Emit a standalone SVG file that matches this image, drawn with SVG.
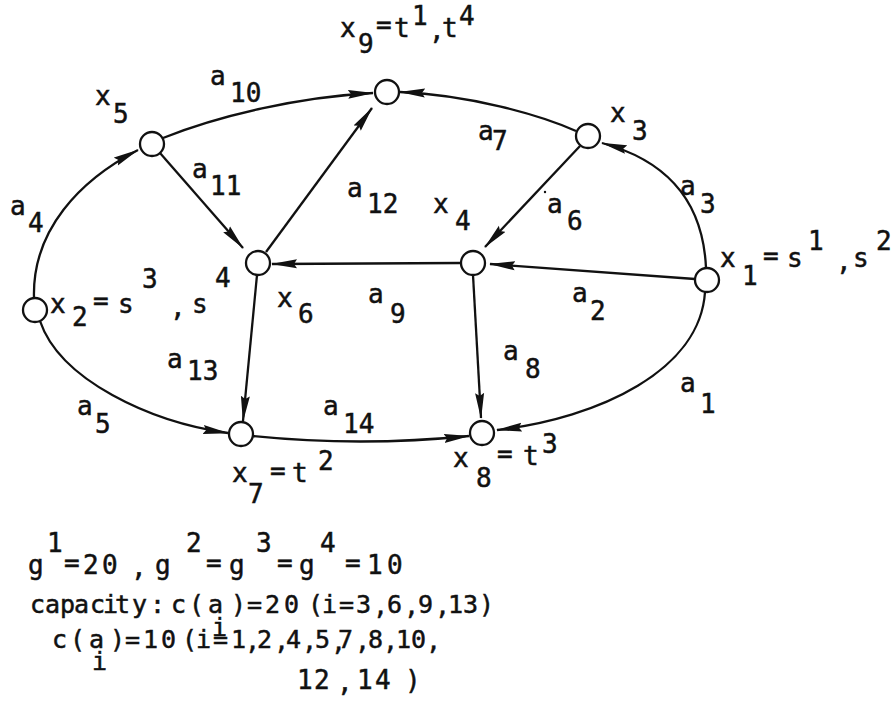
<svg xmlns="http://www.w3.org/2000/svg" width="894" height="712" viewBox="0 0 894 712">
<style>
.e{fill:none;stroke:#111;stroke-width:2.3;marker-end:url(#arr)}
.n{fill:#fff;stroke:#111;stroke-width:2.3}
text{font-family:"DejaVu Sans Mono","Liberation Mono",monospace;font-size:26px;fill:#111;stroke:#111;stroke-width:0.5}
.sm{font-size:25px}
</style>
<defs>
<marker id="arr" markerUnits="userSpaceOnUse" markerWidth="26" markerHeight="10" viewBox="0 0 26 10" refX="25" refY="5" orient="auto">
<path d="M0,0.5 L26,5 L0,9.5 L3,5 z" fill="#111"/>
</marker>
</defs>
<rect width="894" height="712" fill="#fff"/>
<g id="connectors">
<path id="a1" class="e" d="M705,292 C700,370 600,418 497,430"/>
<path id="a2" class="e" d="M695,279 L490,264"/>
<path id="a3" class="e" d="M706,268 C703,200 665,160 602,143"/>
<path id="a4" class="e" d="M34,298 C32,230 80,180 138,150"/>
<path id="a5" class="e" d="M40,321 C60,380 150,422 228,433"/>
<path id="a6" class="e" d="M580,146 L485,247"/>
<path id="a7" class="e" d="M576,131 C540,115 470,95 400,92"/>
<path id="a8" class="e" d="M473,275 L481,418"/>
<path id="a9" class="e" d="M461,263 L272,264"/>
<path id="a10" class="e" d="M163,138 C220,115 300,97 373,93"/>
<path id="a11" class="e" d="M160,153 L243,248"/>
<path id="a12" class="e" d="M266,252 L372,108"/>
<path id="a13" class="e" d="M257,275 L243,421"/>
<path id="a14" class="e" d="M253,436 Q360,447 469,436"/>
</g>
<g id="x1"><circle class="n" cx="707" cy="280" r="12"/></g>
<g id="x2"><circle class="n" cx="35" cy="310" r="12"/></g>
<g id="x3"><circle class="n" cx="588" cy="136" r="12"/></g>
<g id="x4"><circle class="n" cx="473" cy="263" r="12"/></g>
<g id="x5"><circle class="n" cx="152" cy="144" r="12"/></g>
<g id="x6"><circle class="n" cx="258" cy="263" r="12"/></g>
<g id="x7"><circle class="n" cx="241" cy="434" r="12"/></g>
<g id="x8"><circle class="n" cx="482" cy="433" r="12"/></g>
<g id="x9"><circle class="n" cx="387" cy="92" r="12"/></g>
<g id="labels">
<text><tspan x="340" y="37">x</tspan><tspan x="358" y="53">9</tspan><tspan x="376" y="34">=</tspan><tspan x="394" y="37">t</tspan><tspan x="412" y="25">1</tspan><tspan x="429" y="39">,</tspan><tspan x="442" y="37">t</tspan><tspan x="459" y="25">4</tspan></text>
<text><tspan x="95" y="105">x</tspan><tspan x="113" y="123">5</tspan></text>
<text><tspan x="210" y="85">a</tspan><tspan x="230" y="102">10</tspan></text>
<text><tspan x="192" y="178">a</tspan><tspan x="210" y="195">11</tspan></text>
<text><tspan x="347" y="197">a</tspan><tspan x="367" y="213">12</tspan></text>
<text><tspan x="433" y="213">x</tspan><tspan x="455" y="230">4</tspan></text>
<text><tspan x="10" y="215">a</tspan><tspan x="28" y="232">4</tspan></text>
<text><tspan x="610" y="122">x</tspan><tspan x="632" y="140">3</tspan></text>
<text><tspan x="478" y="140">a</tspan><tspan x="492" y="150">7</tspan></text>
<text><tspan x="680" y="195">a</tspan><tspan x="700" y="213">3</tspan></text>
<circle cx="545" cy="192" r="1.2" fill="#111"/>
<text><tspan x="547" y="213">a</tspan><tspan x="567" y="230">6</tspan></text>
<text><tspan x="720" y="267">x</tspan><tspan x="742" y="285">1</tspan><tspan x="763" y="265">=</tspan><tspan x="787" y="267">s</tspan><tspan x="808" y="250">1</tspan><tspan x="836" y="270">,</tspan><tspan x="853" y="267">s</tspan><tspan x="876" y="250">2</tspan></text>
<text><tspan x="50" y="313">x</tspan><tspan x="72" y="326">2</tspan><tspan x="93" y="310">=</tspan><tspan x="118" y="313">s</tspan><tspan x="142" y="288">3</tspan><tspan x="170" y="316">,</tspan><tspan x="192" y="313">s</tspan><tspan x="215" y="287">4</tspan></text>
<text><tspan x="277" y="307">x</tspan><tspan x="298" y="323">6</tspan></text>
<text><tspan x="368" y="303">a</tspan><tspan x="390" y="323">9</tspan></text>
<text><tspan x="572" y="302">a</tspan><tspan x="590" y="320">2</tspan></text>
<text><tspan x="167" y="368">a</tspan><tspan x="187" y="380">13</tspan></text>
<text><tspan x="503" y="360">a</tspan><tspan x="525" y="378">8</tspan></text>
<text><tspan x="680" y="392">a</tspan><tspan x="700" y="413">1</tspan></text>
<text><tspan x="77" y="415">a</tspan><tspan x="95" y="433">5</tspan></text>
<text><tspan x="323" y="415">a</tspan><tspan x="343" y="433">14</tspan></text>
<text><tspan x="232" y="482">x</tspan><tspan x="248" y="503">7</tspan><tspan x="270" y="480">=</tspan><tspan x="292" y="482">t</tspan><tspan x="318" y="470">2</tspan></text>
<text><tspan x="453" y="467">x</tspan><tspan x="476" y="487">8</tspan><tspan x="497" y="463">=</tspan><tspan x="523" y="465">t</tspan><tspan x="542" y="453">3</tspan></text>
</g>
<g id="notes">
<text><tspan x="28" y="574">g</tspan><tspan x="47" y="552">1</tspan><tspan x="64" y="572">=</tspan><tspan x="83" y="574">2</tspan><tspan x="102" y="574">0</tspan><tspan x="131" y="576">,</tspan><tspan x="155" y="574">g</tspan><tspan x="186" y="552">2</tspan><tspan x="206" y="572">=</tspan><tspan x="229" y="574">g</tspan><tspan x="256" y="552">3</tspan><tspan x="277" y="572">=</tspan><tspan x="299" y="574">g</tspan><tspan x="320" y="552">4</tspan><tspan x="345" y="572">=</tspan><tspan x="367" y="574">1</tspan><tspan x="387" y="574">0</tspan></text>
<text class="sm"><tspan x="30" y="613">c</tspan><tspan x="45" y="613">ap</tspan><tspan x="74" y="613">a</tspan><tspan x="90" y="613">c</tspan><tspan x="103" y="613">i</tspan><tspan x="115" y="613">t</tspan><tspan x="132" y="613">y</tspan><tspan x="150" y="613">:</tspan><tspan x="171" y="613">c</tspan><tspan x="189" y="613">(</tspan><tspan x="208" y="613">a</tspan><tspan x="212" y="636">i</tspan><tspan x="231" y="613">)</tspan><tspan x="247" y="613">=</tspan><tspan x="265" y="613">2</tspan><tspan x="284" y="613">0</tspan><tspan x="308" y="613">(</tspan><tspan x="322" y="613">i</tspan><tspan x="339" y="613">=</tspan><tspan x="356" y="613">3</tspan><tspan x="373" y="615">,</tspan><tspan x="387" y="613">6</tspan><tspan x="404" y="615">,</tspan><tspan x="418" y="613">9</tspan><tspan x="435" y="615">,</tspan><tspan x="448" y="613">13</tspan><tspan x="479" y="613">)</tspan></text>
<text class="sm"><tspan x="52" y="648">c</tspan><tspan x="70" y="648">(</tspan><tspan x="89" y="648">a</tspan><tspan x="92" y="670">i</tspan><tspan x="110" y="648">)</tspan><tspan x="125" y="648">=</tspan><tspan x="143" y="648">1</tspan><tspan x="161" y="648">0</tspan><tspan x="182" y="648">(</tspan><tspan x="196" y="648">i</tspan><tspan x="213" y="648">=</tspan><tspan x="231" y="648">1</tspan><tspan x="245" y="650">,</tspan><tspan x="257" y="648">2</tspan><tspan x="274" y="650">,</tspan><tspan x="286" y="648">4</tspan><tspan x="302" y="650">,</tspan><tspan x="315" y="648">5</tspan><tspan x="331" y="651">,</tspan><tspan x="338" y="648">7</tspan><tspan x="355" y="650">,</tspan><tspan x="368" y="648">8</tspan><tspan x="383" y="650">,</tspan><tspan x="396" y="648">10</tspan><tspan x="426" y="650">,</tspan></text>
<text><tspan x="297" y="689">1</tspan><tspan x="314" y="689">2</tspan><tspan x="337" y="691">,</tspan><tspan x="357" y="689">1</tspan><tspan x="375" y="689">4</tspan><tspan x="405" y="689">)</tspan></text>
</g>
</svg>
